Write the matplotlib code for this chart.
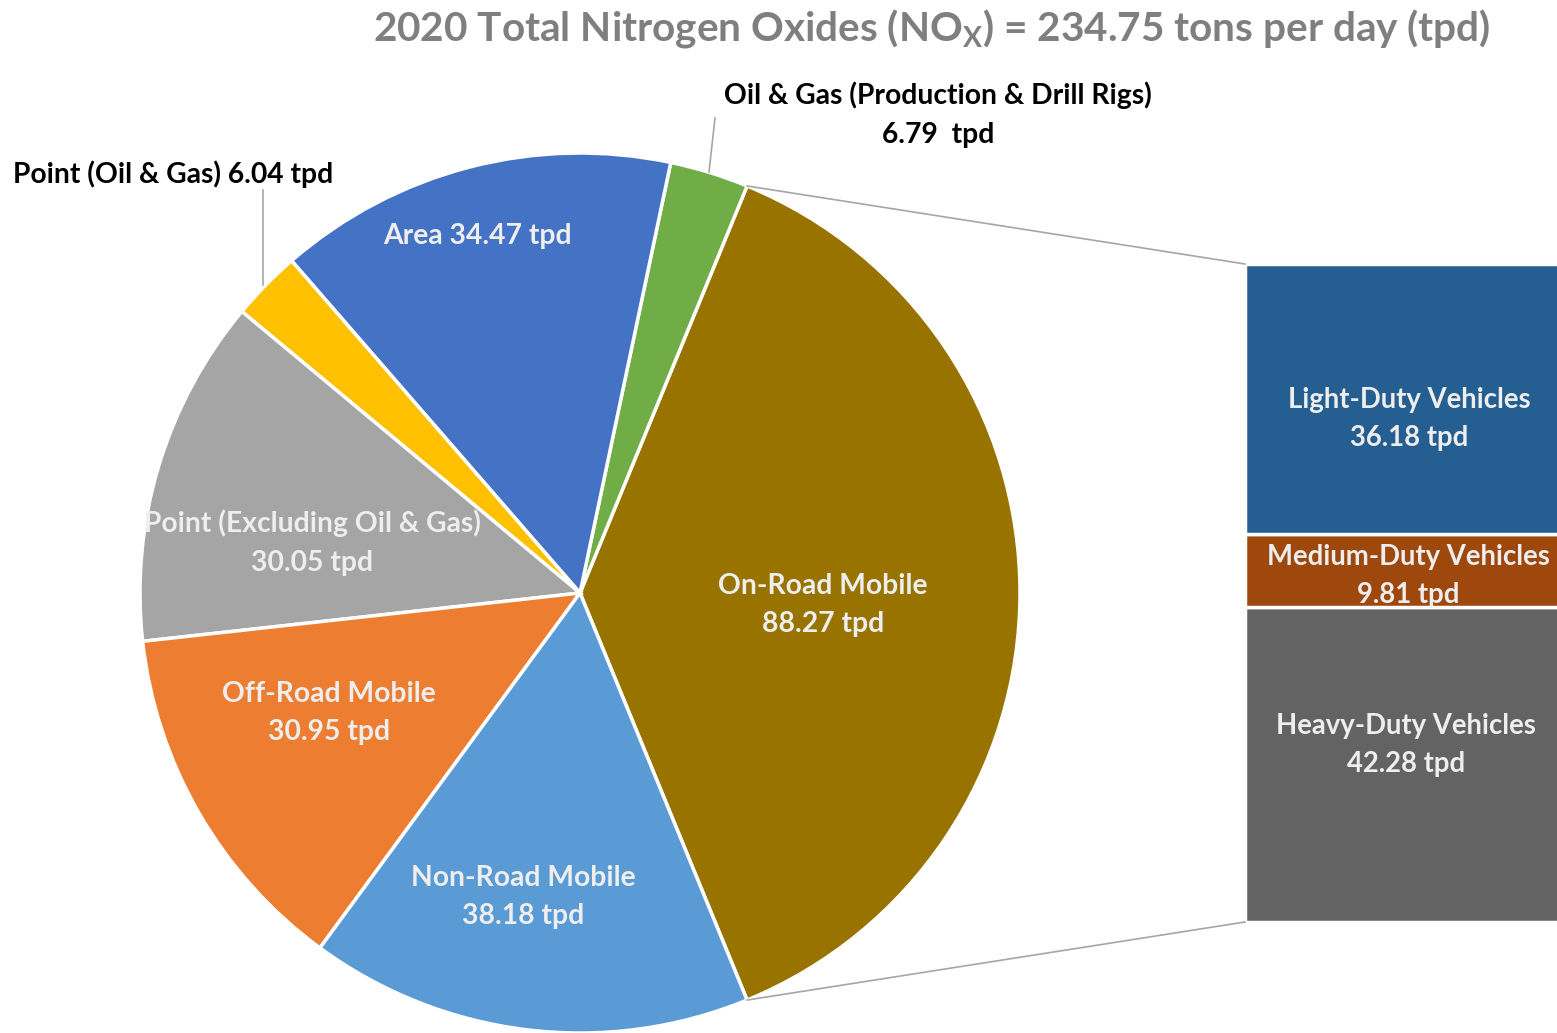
import numpy as np
import matplotlib
matplotlib.use("Agg")
import matplotlib.pyplot as plt

plt.rcParams['font.family'] = ['Lato', 'DejaVu Sans']

# pie data (counter-clockwise starting with the exploded slice)
sources = ['On-Road Mobile', 'Oil & Gas (Production & Drill Rigs)', 'Area',
           'Point (Oil & Gas)', 'Point (Excluding Oil & Gas)',
           'Off-Road Mobile', 'Non-Road Mobile']
tpd = [88.27, 6.79, 34.47, 6.04, 30.05, 30.95, 38.18]
pie_colors = ['#987300', '#70AD47', '#4472C4', '#FFC000', '#A5A5A5',
              '#ED7D31', '#5B9BD5']

# breakdown of on-road mobile
vehicles = ['Heavy-Duty Vehicles', 'Medium-Duty Vehicles', 'Light-Duty Vehicles']
veh_tpd = [42.28, 9.81, 36.18]
bar_colors = ['#636363', '#9E480E', '#255E91']

W, H = 1557, 1033
fig = plt.figure(figsize=(W / 100, H / 100), dpi=100)
ax = fig.add_axes([0, 0, 1, 1])

cx, cy, r = 580, H - 593, 440
total = sum(tpd)
start = -360 * tpd[0] / total / 2
ax.pie(tpd, colors=pie_colors, startangle=start, counterclock=True,
       center=(cx, cy), radius=r, frame=True,
       wedgeprops=dict(edgecolor='white', linewidth=2.5))
ax.set_xlim(0, W)
ax.set_ylim(0, H)
ax.set_aspect('equal')
ax.axis('off')

# bar of pie
bx, bw = 1245, 330
bar_top, bar_bot = H - 264, H - 922
scale = (bar_top - bar_bot) / sum(veh_tpd)
bottom = bar_bot
for v, c in zip(veh_tpd, bar_colors):
    ax.bar(bx, v * scale, width=bw, bottom=bottom, align='edge', color=c,
           edgecolor='white', linewidth=2.5)
    bottom += v * scale

# connector lines
for sgn, yb in [(1, bar_top), (-1, bar_bot)]:
    a = np.radians(sgn * (-start))
    ax.plot([cx + r * np.cos(a), bx], [cy + r * np.sin(a), yb],
            color='#A6A6A6', lw=1.2)

light = '#EEEEEE'
fs = 20.3

def lab(x, y, s, color=light, size=fs):
    ax.text(x, H - y, s, ha='center', va='center', color=color,
            fontsize=size, fontweight='bold', linespacing=1.6)

lab(823, 605, f'{sources[0]}\n{tpd[0]:.2f} tpd')
lab(477, 236, f'{sources[2]} {tpd[2]:.2f} tpd')
lab(312, 543, f'{sources[4]}\n{tpd[4]:.2f} tpd')
lab(329, 713, f'{sources[5]}\n{tpd[5]:.2f} tpd')
lab(523, 897, f'{sources[6]}\n{tpd[6]:.2f} tpd')
lab(938, 115, f'{sources[1]}\n{tpd[1]:.2f}  tpd', color='black')
lab(173, 174, f'{sources[3]} {tpd[3]:.2f} tpd', color='black')

# leader lines
ax.plot([715, 709], [H - 118, H - 172], color='#A6A6A6', lw=1.2)
ax.plot([263, 263], [H - 190, H - 285], color='#A6A6A6', lw=1.2)

lab(1409, 419, f'{vehicles[2]}\n{veh_tpd[2]:.2f} tpd', size=19.8)
lab(1408, 576, f'{vehicles[1]}\n{veh_tpd[1]:.2f} tpd', size=19.8)
lab(1406, 745, f'{vehicles[0]}\n{veh_tpd[0]:.2f} tpd', size=19.8)

ax.text(932, H - 29, r'2020 Total Nitrogen Oxides (NO$_\mathregular{X}$) = 234.75 tons per day (tpd)',
        ha='center', va='center', color='#7F7F7F', fontsize=29.2,
        fontweight='bold')

fig.savefig('out.png', dpi=100)
